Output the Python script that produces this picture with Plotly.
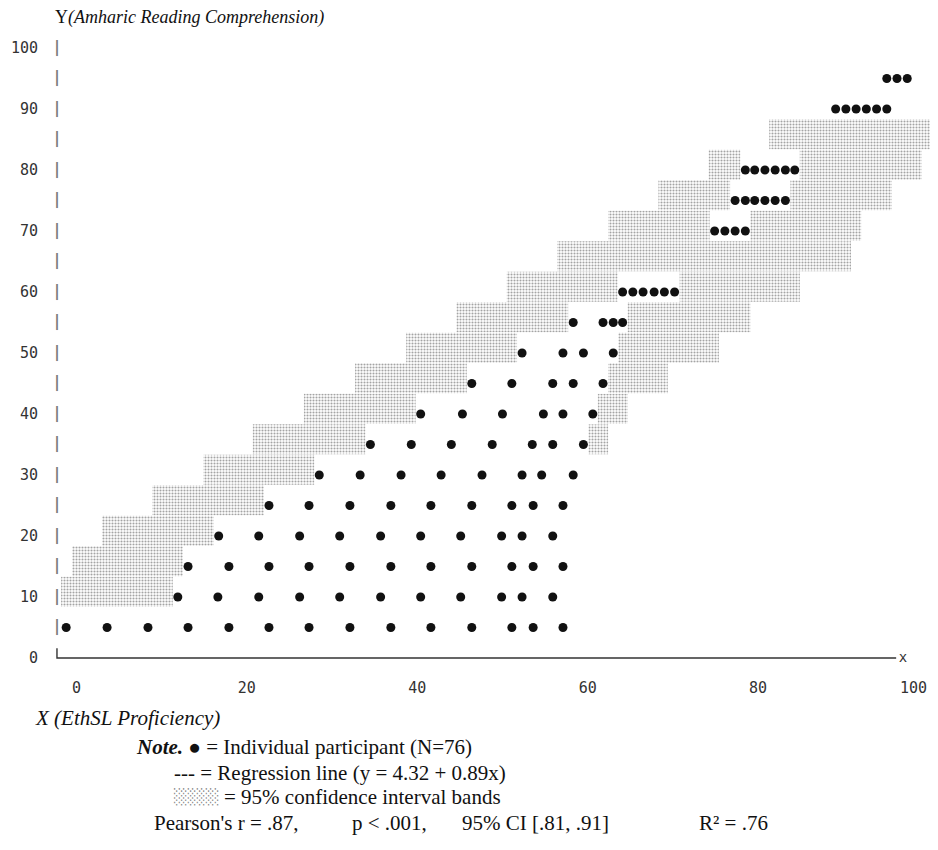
import plotly.graph_objects as go

# ---------------- data ----------------
dot_rows = [5, 10, 15, 20, 25, 30, 35, 40, 45, 50, 55, 60, 70, 75, 80, 90, 95, 100]
dot_x = [
    [-1.2, 3.6, 8.4, 13.1, 17.9, 22.6, 27.3, 32.1, 36.9, 41.6, 46.4, 51.1, 53.6, 57.1],
    [11.9, 16.6, 21.4, 26.2, 30.9, 35.7, 40.4, 45.1, 49.9, 52.3, 55.9],
    [13.1, 17.9, 22.6, 27.3, 32.1, 36.9, 41.6, 46.4, 51.1, 53.6, 57.1],
    [16.7, 21.4, 26.2, 30.9, 35.7, 40.4, 45.1, 49.9, 52.3, 55.9],
    [22.6, 27.3, 32.1, 36.9, 41.6, 46.4, 51.1, 53.6, 57.1],
    [28.5, 33.3, 38.1, 42.8, 47.6, 52.3, 54.6, 58.3],
    [34.5, 39.3, 44.0, 48.8, 53.5, 55.9, 59.5],
    [40.4, 45.3, 50.0, 54.8, 57.1, 60.6],
    [46.4, 51.1, 55.9, 58.3, 61.8],
    [52.3, 57.1, 59.5, 63.0],
    [58.3, 61.8, 63.0, 64.1],
    [64.1, 65.3, 66.5, 67.8, 69.0, 70.2],
    [74.9, 76.1, 77.3, 78.5],
    [77.3, 78.5, 79.6, 80.8, 82.0, 83.2],
    [78.5, 79.6, 80.8, 82.0, 83.2, 84.3],
    [89.1, 90.3, 91.5, 92.7, 93.9, 95.1],
    [95.1, 96.3, 97.5],
    [101.0],
]

band_rows = [10, 15, 20, 25, 30, 35, 40, 45, 50, 55, 60, 65, 70, 75, 80, 85]
band_lo = [-1.8, -0.5, 3.0, 8.9, 14.9, 20.7, 26.7, 32.7, 38.7, 44.6, 50.5, 56.4, 62.4, 68.3, 74.2, 81.3]
band_hi = [44.4, 47.9, 51.5, 55.0, 58.5, 62.4, 64.7, 69.4, 75.4, 79.1, 84.9, 90.9, 92.1, 95.7, 99.2, 101.2]

y_ticks = [0, 10, 20, 30, 40, 50, 60, 70, 80, 90, 100]
x_ticks = [0, 20, 40, 60, 80, 100]
x_tick_labels = ["0", "20", "40", "60", "80", "100"]
axis_marks = [5, 10, 15, 20, 25, 30, 35, 40, 45, 50, 55, 60, 65, 70, 75, 80, 85, 90, 95, 100]

# ---------------- layout geometry ----------------
# the page adds an 8px body margin around the figure
OFF = 8
W, H = 938 - OFF, 850 - 2 * OFF
ML, MR, MT = 45 - OFF, 0, 30 - OFF
MB = H - (665 - OFF)
PW, PH = W - ML - MR, H - MT - MB
X_RANGE = [-3.685, 101.11]
Y_RANGE = [-1.148, 102.95]
AXIS_X = -2.28
AXIS_END = 96.2
GAP = 0.59
MONO = "DejaVu Sans Mono"


def pxx(p):
    return (p - OFF - ML) / PW


def pxy(p):
    return (H - MB - (p - OFF)) / PH


fig = go.Figure()

# confidence bands (stippled), interrupted where a row of participant dots is printed
seg_y, seg_base, seg_len = [], [], []
for r, lo, hi in zip(band_rows, band_lo, band_hi):
    xs = dot_x[dot_rows.index(r)] if r in dot_rows else []
    parts = []
    if xs:
        a, b = min(xs) - GAP, max(xs) + GAP
        if a > lo:
            parts.append((lo, min(a, hi)))
        if hi > b:
            parts.append((max(b, lo), hi))
    else:
        parts.append((lo, hi))
    for s, e in parts:
        seg_y.append(r)
        seg_base.append(s)
        seg_len.append(e - s)

fig.add_trace(go.Bar(
    orientation="h", y=seg_y, x=seg_len, base=seg_base,
    width=4.9, offset=-1.6,
    marker=dict(color="white", line=dict(width=0),
                pattern=dict(shape=".", fgcolor="#4a4a4a", bgcolor="white",
                             size=3, solidity=0.4)),
    hoverinfo="skip", showlegend=False,
))

# ASCII-style y axis marks
fig.add_trace(go.Scatter(
    x=[AXIS_X] * len(axis_marks), y=axis_marks, mode="text",
    text=["|"] * len(axis_marks),
    textfont=dict(family=MONO, size=15, color="#7a7a7a", weight="bold"),
    hoverinfo="skip", showlegend=False,
))

# x axis line with corner
fig.add_trace(go.Scatter(
    x=[AXIS_X, AXIS_X, AXIS_END], y=[1.6, 0, 0], mode="lines",
    line=dict(color="#333333", width=1.4),
    hoverinfo="skip", showlegend=False,
))
fig.add_trace(go.Scatter(
    x=[AXIS_END + 0.8], y=[0], mode="text", text=["x"],
    textfont=dict(family=MONO, size=14, color="#333333"),
    hoverinfo="skip", showlegend=False,
))

# participants
px_all, py_all = [], []
for r, xs in zip(dot_rows, dot_x):
    for v in xs:
        px_all.append(v)
        py_all.append(r)
fig.add_trace(go.Scatter(
    x=px_all, y=py_all, mode="markers",
    marker=dict(size=9, color="#111111"),
    cliponaxis=False, showlegend=False,
))

serif = "Liberation Serif"
ann = []


def add_text(text, x, y, size=21, family=serif, color="#111111"):
    ann.append(dict(text=text, x=pxx(x), y=pxy(y), xref="paper", yref="paper",
                    xanchor="left", yanchor="middle", showarrow=False,
                    font=dict(family=family, size=size, color=color)))


add_text("Y<i>(Amharic Reading Comprehension)</i>", 53, 18, size=18)
add_text("<i>X (EthSL Proficiency)</i>", 33, 718, size=21)
add_text("<b><i>Note.</i></b> ● = Individual participant (N=76)", 134, 747)
add_text("--- = Regression line (y = 4.32 + 0.89x)", 172, 773)
add_text("░░░░░", 172, 797, size=15, family=MONO, color="#8a8a8a")
add_text("= 95% confidence interval bands", 222, 797)
add_text("Pearson's r = .87,", 152, 823)
add_text("p < .001,", 350, 823)
add_text("95% CI [.81, .91]", 460, 823)
add_text("R² = .76", 697, 823)

# the last x label sits at the right edge of the page: anchor it on its right side
ann.append(dict(text=x_tick_labels[-1], x=x_ticks[-1], xref="x", y=pxy(688), yref="paper",
                xanchor="right", yanchor="middle", showarrow=False,
                font=dict(family=MONO, size=15, color="#333333")))

fig.update_layout(
    width=W, height=H,
    margin=dict(l=ML, r=MR, t=MT, b=MB),
    paper_bgcolor="white", plot_bgcolor="white",
    barmode="overlay", showlegend=False,
    annotations=ann,
    xaxis=dict(range=X_RANGE, tickvals=x_ticks[:-1], ticktext=x_tick_labels[:-1],
               showgrid=False, zeroline=False, showline=False, automargin=False,
               ticks="outside", ticklen=9, tickcolor="rgba(0,0,0,0)",
               tickfont=dict(family=MONO, size=15, color="#333333")),
    yaxis=dict(range=Y_RANGE, tickvals=y_ticks, ticktext=[str(v) for v in y_ticks],
               showgrid=False, zeroline=False, showline=False, automargin=False,
               ticks="outside", ticklen=3, tickcolor="rgba(0,0,0,0)",
               tickfont=dict(family=MONO, size=15, color="#333333")),
)

fig.write_html("out.html")
